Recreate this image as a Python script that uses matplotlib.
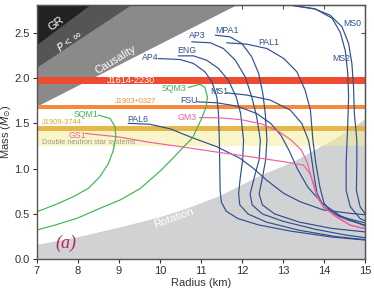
import matplotlib

matplotlib.use("Agg")
import matplotlib.pyplot as plt

plt.rcParams["font.family"] = ["Liberation Sans", "DejaVu Sans"]

# excluded regions (boundary lines, radius km / mass Msun)
gr_r, gr_m = [7.0, 8.3], [2.37, 2.81]
pinf_r, pinf_m = [7.0, 9.3], [2.12, 2.81]
caus_r, caus_m = [7.0, 12.0], [1.69, 2.84]
rot_r = [7.0, 8.0, 9.0, 10.0, 10.74, 11.48, 12.45, 13.25, 14.32, 15.0]
rot_m = [0.165, 0.25, 0.355, 0.47, 0.58, 0.71, 0.93, 1.08, 1.35, 1.55]

# pulsar mass bands (low, high)
j1614 = (1.93, 2.01)
j1903 = (1.655, 1.70)
j1909 = (1.42, 1.47)
dns = (1.25, 1.45)

# EOS curves (nucleonic)
ap4_r = [9.96, 10.49, 10.82, 11.10, 11.27, 11.39, 11.43, 11.45, 11.46, 11.47, 11.5, 11.62, 11.9, 12.4, 13.2, 14.2, 15.05]
ap4_m = [2.215, 2.205, 2.161, 2.069, 1.959, 1.793, 1.609, 1.315, 1.06, 0.76, 0.63, 0.53, 0.45, 0.38, 0.31, 0.245, 0.21]
eng_r = [10.45, 10.82, 11.14, 11.43, 11.67, 11.86, 11.97, 12.04, 12.02, 11.96, 11.92, 11.95, 12.15, 12.6, 13.4, 14.3, 15.05]
eng_m = [2.245, 2.245, 2.197, 2.106, 1.977, 1.793, 1.609, 1.315, 1.1, 0.9, 0.72, 0.6, 0.5, 0.41, 0.32, 0.25, 0.215]
ap3_r = [10.78, 11.23, 11.55, 11.84, 12.08, 12.24, 12.36, 12.45, 12.42, 12.3, 12.2, 12.25, 12.5, 13.0, 13.8, 14.5, 15.05]
ap3_m = [2.40, 2.389, 2.326, 2.197, 2.014, 1.793, 1.573, 1.315, 1.1, 0.9, 0.72, 0.6, 0.5, 0.42, 0.33, 0.27, 0.235]
mpa1_r = [11.35, 11.71, 12.0, 12.24, 12.41, 12.51, 12.57, 12.61, 12.58, 12.5, 12.42, 12.5, 12.8, 13.4, 14.2, 15.05]
mpa1_m = [2.473, 2.455, 2.381, 2.234, 2.05, 1.83, 1.609, 1.315, 1.1, 0.9, 0.72, 0.6, 0.5, 0.41, 0.34, 0.30]
pal1_r = [11.63, 12.12, 12.61, 13.02, 13.34, 13.54, 13.67, 13.73, 13.8, 13.9, 14.0, 14.2, 14.6, 15.05]
pal1_m = [2.389, 2.374, 2.326, 2.216, 2.069, 1.867, 1.646, 1.315, 1.06, 0.8, 0.62, 0.51, 0.43, 0.37]
ms0_r = [13.0, 13.34, 13.75, 14.15, 14.44, 14.6, 14.68, 14.72, 14.74, 14.8, 14.8, 14.79, 14.88, 15.05]
ms0_m = [2.82, 2.793, 2.767, 2.694, 2.565, 2.381, 2.16, 1.903, 1.61, 1.315, 1.06, 0.76, 0.58, 0.47]
ms2_r = [13.0, 13.34, 13.8, 14.2, 14.4, 14.52, 14.58, 14.6, 14.58, 14.54, 14.54, 14.64, 14.88, 15.05]
ms2_m = [2.82, 2.793, 2.76, 2.66, 2.5, 2.3, 2.05, 1.8, 1.5, 1.06, 0.76, 0.58, 0.45, 0.415]
ms1_r = [11.63, 12.12, 12.69, 13.18, 13.46, 13.62, 13.67, 13.75, 13.83, 13.99, 14.4, 15.05]
ms1_m = [1.837, 1.812, 1.757, 1.646, 1.499, 1.315, 1.2, 0.947, 0.73, 0.58, 0.47, 0.396]
fsu_r = [10.9, 11.39, 11.88, 12.36, 12.7, 12.95, 13.15, 13.35, 13.6, 13.95, 14.4, 15.05]
fsu_m = [1.738, 1.727, 1.69, 1.609, 1.5, 1.37, 1.2, 1.0, 0.8, 0.62, 0.48, 0.36]
pal6_r = [9.23, 9.76, 10.25, 10.8, 11.39, 11.96, 12.28, 12.61, 13.02, 13.42, 13.99, 14.64, 15.05]
pal6_m = [1.50, 1.49, 1.44, 1.34, 1.242, 1.113, 1.003, 0.871, 0.727, 0.635, 0.544, 0.507, 0.489]

# hyperon / kaon EOS
gm3_r = [10.97, 11.5, 12.0, 12.5, 12.9, 13.2, 13.45, 13.6, 13.71, 13.83, 13.99, 14.32, 14.64, 15.05]
gm3_m = [1.565, 1.56, 1.54, 1.49, 1.41, 1.316, 1.205, 1.058, 0.874, 0.69, 0.58, 0.47, 0.378, 0.334]
gs1_r = [8.18, 9.0, 9.76, 10.58, 11.39, 12.2, 13.02, 13.5, 13.65, 13.75, 13.83, 14.0, 14.32, 14.64, 15.05]
gs1_m = [1.389, 1.35, 1.29, 1.238, 1.183, 1.132, 1.077, 1.04, 0.95, 0.84, 0.69, 0.57, 0.46, 0.375, 0.33]

# strange quark matter
sqm1_r = [8.50, 8.79, 8.91, 8.93, 8.87, 8.75, 8.54, 8.26, 7.89, 7.53, 7.12, 6.9]
sqm1_m = [1.591, 1.555, 1.462, 1.352, 1.205, 1.058, 0.911, 0.783, 0.69, 0.617, 0.544, 0.51]
sqm3_r = [10.70, 10.98, 11.1, 11.16, 11.13, 11.02, 10.9, 10.8, 10.6, 10.33, 10.0, 9.52, 9.03, 8.54, 7.98, 7.45, 6.9]
sqm3_m = [1.896, 1.933, 1.896, 1.793, 1.683, 1.555, 1.44, 1.34, 1.25, 1.12, 0.97, 0.78, 0.654, 0.562, 0.452, 0.378, 0.31]

BLUE = "#2f4f8f"
GREEN = "#3fb54e"
PINK = "#f0609e"

fig = plt.figure(figsize=(3.74, 2.91), dpi=100)
ax = fig.add_axes([0.098, 0.109, 0.878, 0.875])
ax.set_xlim(7, 15)
ax.set_ylim(0, 2.81)

# shaded regions
ax.fill_between(rot_r, 0, rot_m, color="#d1d2d4", lw=0, zorder=1)
ax.fill_between(caus_r, caus_m, 3.0, color="#8a8a8a", lw=0, zorder=1)
ax.fill_between(pinf_r, pinf_m, 3.0, color="#555555", lw=0, zorder=1)
ax.fill_between(gr_r, gr_m, 3.0, color="#222222", lw=0, zorder=1)

# mass bands
ax.axhspan(*dns, color="#f6ee9c", alpha=0.55, lw=0, zorder=2)
ax.axhspan(*j1909, color="#e3b13a", alpha=0.9, lw=0, zorder=2)
ax.axhspan(*j1903, color="#f58a3c", lw=0, zorder=2)
ax.axhspan(*j1614, color="#ef4b30", lw=0, zorder=2)

curves = [
    (ap4_r, ap4_m, BLUE), (eng_r, eng_m, BLUE), (ap3_r, ap3_m, BLUE),
    (mpa1_r, mpa1_m, BLUE), (pal1_r, pal1_m, BLUE), (ms0_r, ms0_m, BLUE),
    (ms2_r, ms2_m, BLUE), (ms1_r, ms1_m, BLUE), (fsu_r, fsu_m, BLUE),
    (pal6_r, pal6_m, BLUE), (gm3_r, gm3_m, PINK), (gs1_r, gs1_m, PINK),
    (sqm1_r, sqm1_m, GREEN), (sqm3_r, sqm3_m, GREEN),
]
for r, m, c in curves:
    ax.plot(r, m, color=c, lw=0.85, zorder=3, solid_capstyle="round")

# EOS labels
fs = 6.3
eos_labels = [
    ("AP4", 9.78, 2.225, BLUE), ("ENG", 10.66, 2.30, BLUE), ("AP3", 10.92, 2.47, BLUE),
    ("MPA1", 11.63, 2.53, BLUE), ("PAL1", 12.65, 2.39, BLUE), ("MS0", 14.7, 2.605, BLUE),
    ("MS2", 14.42, 2.215, BLUE), ("MS1", 11.45, 1.853, BLUE), ("FSU", 10.71, 1.755, BLUE),
    ("PAL6", 9.47, 1.545, BLUE), ("GM3", 10.67, 1.56, PINK), ("GS1", 8.0, 1.37, PINK),
    ("SQM1", 8.2, 1.60, GREEN), ("SQM3", 10.35, 1.885, GREEN),
]
for txt, x, y, c in eos_labels:
    ax.text(x, y, txt, color=c, fontsize=fs, ha="center", va="center", zorder=4)

# band labels
ax.text(9.3, 1.97, "J1614-2230", color="white", fontsize=6.6, ha="center", va="center", zorder=4)
ax.text(9.4, 1.74, "J1903+0327", color="#f08a30", fontsize=5.4, ha="center", va="center", zorder=4)
ax.text(7.12, 1.505, "J1909-3744", color="#d9a52c", fontsize=5.4, ha="left", va="center", zorder=4)
ax.text(7.12, 1.29, "Double neutron star systems", color="#9a9a8a", fontsize=5.3,
        ha="left", va="center", zorder=4)

# region labels
ax.text(7.47, 2.60, "GR", color="white", fontsize=8, rotation=37, ha="center", va="center", zorder=4)
ax.text(7.78, 2.41, r"$P$ < ∞", color="white", fontsize=8, rotation=36, ha="center", va="center", zorder=4)
ax.text(8.93, 2.20, "Causality", color="white", fontsize=8, rotation=31, ha="center", va="center", zorder=4)
ax.text(10.35, 0.455, "Rotation", color="white", fontsize=8, rotation=20, ha="center", va="center", zorder=4)
ax.text(7.72, 0.18, "(a)", color="#b3245c", fontsize=13, style="italic",
        family=["Liberation Serif", "DejaVu Serif"], ha="center", va="center", zorder=4)

ax.set_xticks(range(7, 16))
ax.set_yticks([0.0, 0.5, 1.0, 1.5, 2.0, 2.5])
ax.set_yticklabels(["0.0", "0.5", "1.0", "1.5", "2.0", "2.5"])
ax.tick_params(direction="out", length=3, pad=2, labelsize=8, colors="#333333", width=0.8)
ax.set_xlabel("Radius (km)", fontsize=8, color="#333333", labelpad=1)
ax.set_ylabel(r"Mass ($M_{\odot}$)", fontsize=8, color="#333333", labelpad=1)
for s in ax.spines.values():
    s.set_color("#555555")
    s.set_linewidth(1.0)
    s.set_zorder(5)

secx = ax.secondary_xaxis("top")
secx.set_xticks(range(7, 16))
secx.tick_params(direction="in", length=3, labeltop=False, color="#555555")
secy = ax.secondary_yaxis("right")
secy.set_yticks([0.0, 0.5, 1.0, 1.5, 2.0, 2.5])
secy.tick_params(direction="in", length=3, labelright=False, color="#555555")

fig.savefig("out.png", dpi=100)
plt.close(fig)
